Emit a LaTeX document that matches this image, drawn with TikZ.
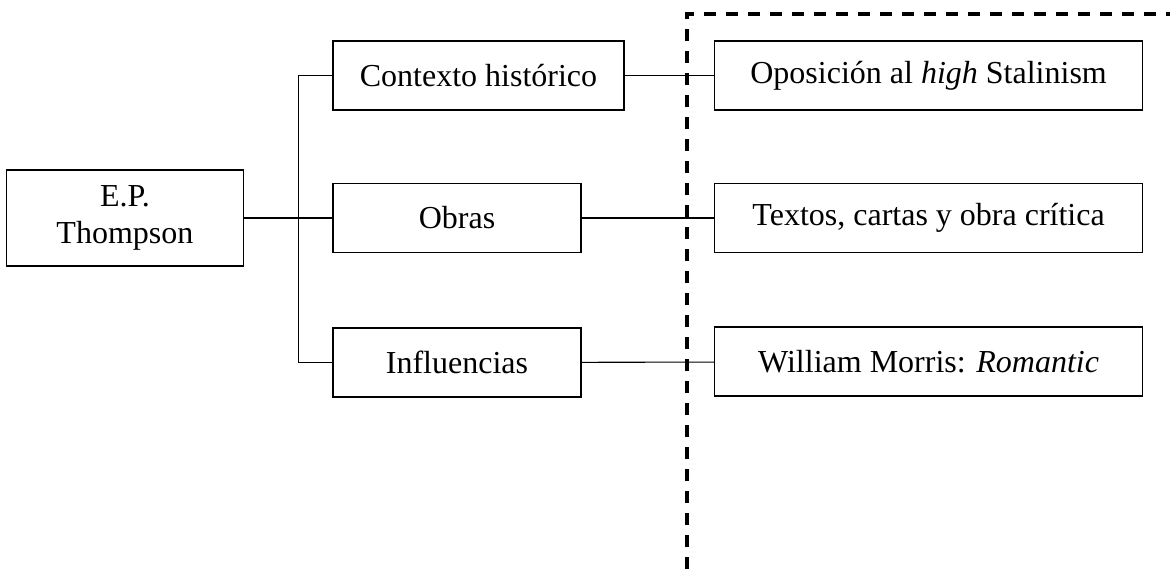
\documentclass[tikz,border=0pt]{standalone}
\usepackage{fontspec}
\setmainfont{Liberation Serif}
\usetikzlibrary{positioning}

\begin{document}
\begin{tikzpicture}
          [x=1pt, y=-1pt,
           box/.style={draw, rectangle, line width=1.6pt, minimum height=69pt,
                       inner sep=4pt, font=\fontsize{32}{37}\selectfont},
           link/.style={line width=1.1pt},
           fence/.style={line width=3.5pt, dash pattern=on 12pt off 10pt}]
          \useasboundingbox (0,0) rectangle (1170,569);

          \node (obras) [box, minimum width=248pt] at (457,218) {Obras};
          \node (ctx) [box, minimum width=291pt, above=72pt of obras.north west, anchor=south west] {Contexto histórico};
          \node (infl) [box, minimum width=248pt, below=74pt of obras] {Influencias};
          \node (root) [box, minimum width=237pt, minimum height=96pt, align=center, left=88pt of obras] {E.P.\\Thompson};

          \node (textos) [box, minimum width=428pt, right=132pt of obras] {Textos, cartas y obra crítica};
          \node (op) [box, minimum width=428pt, above=72pt of textos] {Oposición al \textit{high} Stalinism};
          \node (morris) [box, minimum width=428pt, below=73pt of textos] {William Morris: \textit{Romantic}};

          \draw[link] (root.east) -- ++(54,0) coordinate (j);
          \draw[link] (j) |- (ctx.west);
          \draw[link] (j) |- (infl.west);
          \draw[link] (j) -- (obras.west);

          \draw[link] (ctx) -- (op);
          \draw[link] (obras) -- (textos);
          \draw[link] (infl) -- (morris);

          \coordinate (corner) at (687,14);
          \draw[fence] (corner |- 0,569) -- (corner) -- (1170,14);

        \end{tikzpicture}
\end{document}
